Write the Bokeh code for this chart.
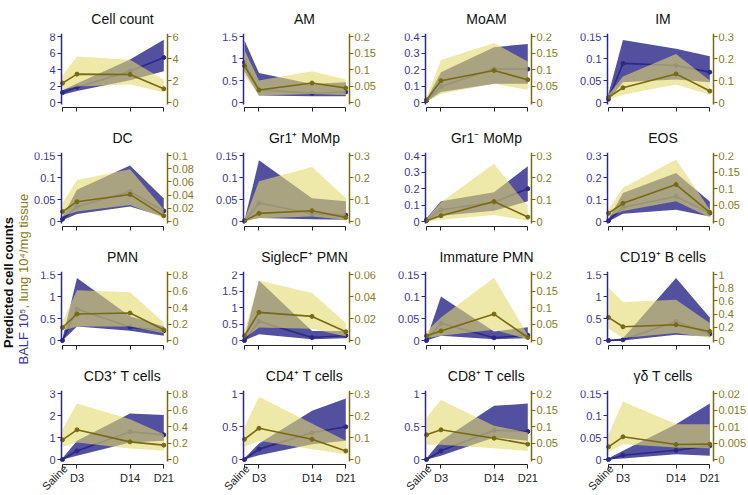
import math
from bokeh.plotting import figure
from bokeh.models import (Range1d, LinearAxis, FixedTicker, CustomJSTickFormatter,
                          CustomLabelingPolicy)
from bokeh.layouts import row, column
from bokeh.core.properties import value
from bokeh.embed import file_html
from bokeh.resources import INLINE

days = [0, 3, 14, 21]
day_labels = ["Saline", "D3", "D14", "D21"]

titles = ["Cell count", "AM", "MoAM", "IM",
          "DC", "Gr1\u207a MoMp", "Gr1\u207b MoMp", "EOS",
          "PMN", "SiglecF\u207a PMN", "Immature PMN", "CD19\u207a B cells",
          "CD3\u207a T cells", "CD4\u207a T cells", "CD8\u207a T cells", "\u03b3\u03b4 T cells"]

left_ticks = [
    [0, 2, 4, 6, 8], [0, 0.5, 1, 1.5], [0, 0.1, 0.2, 0.3, 0.4], [0, 0.05, 0.1, 0.15],
    [0, 0.05, 0.1, 0.15], [0, 0.05, 0.1, 0.15], [0, 0.1, 0.2, 0.3, 0.4], [0, 0.1, 0.2, 0.3],
    [0, 0.5, 1, 1.5], [0, 0.5, 1, 1.5, 2], [0, 0.05, 0.1, 0.15], [0, 0.5, 1, 1.5],
    [0, 1, 2, 3], [0, 0.5, 1], [0, 0.5, 1], [0, 0.05, 0.1, 0.15]]
right_ticks = [
    [0, 2, 4, 6], [0, 0.05, 0.1, 0.15, 0.2], [0, 0.05, 0.1, 0.15, 0.2], [0, 0.1, 0.2, 0.3],
    [0, 0.02, 0.04, 0.06, 0.08, 0.1], [0, 0.1, 0.2, 0.3], [0, 0.1, 0.2, 0.3], [0, 0.05, 0.1, 0.15, 0.2],
    [0, 0.2, 0.4, 0.6, 0.8], [0, 0.02, 0.04, 0.06], [0, 0.05, 0.1, 0.15, 0.2], [0, 0.2, 0.4, 0.6, 0.8, 1],
    [0, 0.2, 0.4, 0.6, 0.8], [0, 0.1, 0.2, 0.3], [0, 0.05, 0.1, 0.15, 0.2], [0, 0.005, 0.01, 0.015, 0.02]]

# BALF (left axis): mean, lower, upper at Saline, D3, D14, D21
balf_mean = [
    [1.2, 1.86, 3.8, 5.45], [0.91, 0.29, 0.21, 0.24], [0.012, 0.097, 0.204, 0.202], [0.0076, 0.089, 0.084, 0.069],
    [0.0053, 0.0335, 0.068, 0.024], [0.0015, 0.042, 0.0175, 0.0145], [0.01, 0.071, 0.116, 0.199], [0.003, 0.065, 0.114, 0.038],
    [0.0, 0.716, 0.305, 0.22], [0.0, 0.58, 0.09, 0.15], [0.0, 0.039, 0.0062, 0.0122], [0.0, 0.015, 0.434, 0.145],
    [0.0, 0.39, 1.26, 1.12], [0.0, 0.157, 0.404, 0.495], [0.0, 0.131, 0.444, 0.424], [0.0, 0.0098, 0.021, 0.031]]
balf_lo = [
    [0.95, 1.4, 2.7, 3.8], [0.7, 0.16, 0.14, 0.14], [0.005, 0.063, 0.113, 0.113], [0.005, 0.046, 0.052, 0.046],
    [0.003, 0.017, 0.034, 0.011], [0.001, 0.008, 0.005, 0.004], [0.004, 0.035, 0.065, 0.122], [0.0, 0.035, 0.053, 0.023],
    [0.0, 0.32, 0.22, 0.107], [0.0, 0.19, 0.04, 0.07], [0.0, 0.0107, 0.003, 0.0053], [0.0, 0.0, 0.13, 0.091],
    [0.0, 0.17, 0.77, 0.85], [0.0, 0.066, 0.232, 0.283], [0.0, 0.056, 0.333, 0.283], [0.0, 0.002, 0.012, 0.0083]]
balf_hi = [
    [1.5, 2.3, 5.2, 7.6], [1.41, 0.67, 0.42, 0.46], [0.02, 0.184, 0.335, 0.355], [0.02, 0.142, 0.122, 0.105],
    [0.011, 0.072, 0.127, 0.052], [0.003, 0.139, 0.053, 0.046], [0.02, 0.122, 0.177, 0.335], [0.011, 0.129, 0.22, 0.091],
    [0.05, 1.42, 0.55, 0.32], [0.07, 1.82, 0.29, 0.29], [0.003, 0.1, 0.0206, 0.03], [0.01, 0.053, 1.42, 0.525],
    [0.06, 0.85, 2.09, 2.02], [0.02, 0.242, 0.737, 0.924], [0.02, 0.283, 0.813, 0.848], [0.003, 0.0197, 0.08, 0.127]]

# Lung tissue (right axis): mean, lower, upper
lung_mean = [
    [1.76, 2.58, 2.55, 1.24], [0.111, 0.038, 0.059, 0.044], [0.008, 0.066, 0.097, 0.069], [0.024, 0.067, 0.13, 0.052],
    [0.015, 0.03, 0.041, 0.0086], [0.003, 0.037, 0.049, 0.018], [0.003, 0.026, 0.091, 0.02], [0.025, 0.055, 0.112, 0.028],
    [0.158, 0.321, 0.333, 0.13], [0.0043, 0.0256, 0.0219, 0.0079], [0.0142, 0.029, 0.08, 0.009], [0.35, 0.208, 0.239, 0.137],
    [0.238, 0.36, 0.214, 0.174], [0.092, 0.142, 0.092, 0.039], [0.0747, 0.0899, 0.0646, 0.0465], [0.00384, 0.00687, 0.00455, 0.00465]]
lung_lo = [
    [1.18, 1.45, 1.64, 0.94], [0.082, 0.021, 0.026, 0.023], [0.002, 0.026, 0.057, 0.038], [0.015, 0.035, 0.082, 0.035],
    [0.008, 0.015, 0.025, 0.005], [0.002, 0.015, 0.023, 0.008], [0.0, 0.008, 0.03, 0.003], [0.017, 0.032, 0.061, 0.012],
    [0.118, 0.17, 0.17, 0.089], [0.002, 0.0119, 0.0107, 0.0037], [0.007, 0.0142, 0.0325, 0.004], [0.178, 0.036, 0.112, 0.036],
    [0.154, 0.206, 0.133, 0.105], [0.058, 0.085, 0.047, 0.024], [0.0444, 0.0444, 0.0343, 0.026], [0.00212, 0.00465, 0.00364, 0.00343]]
lung_hi = [
    [2.45, 4.18, 3.88, 2.06], [0.158, 0.067, 0.095, 0.07], [0.015, 0.129, 0.18, 0.124], [0.035, 0.118, 0.221, 0.1],
    [0.028, 0.063, 0.079, 0.018], [0.008, 0.183, 0.248, 0.107], [0.012, 0.087, 0.262, 0.069], [0.036, 0.102, 0.188, 0.036],
    [0.23, 0.609, 0.585, 0.219], [0.0082, 0.0545, 0.0432, 0.0158], [0.027, 0.07, 0.19, 0.017], [0.797, 0.584, 0.619, 0.264],
    [0.368, 0.679, 0.489, 0.307], [0.148, 0.285, 0.164, 0.085], [0.127, 0.18, 0.102, 0.0818], [0.00768, 0.0176, 0.0107, 0.0107]]

NAVY = "#2B2886"
NAVY_TXT = "#3A3693"
NAVY_BAND = "#35318E"
YEL_BAND = "#E2DA6E"
OLIVE = "#776A10"
OLIVE_TXT = "#877A24"
FONT = "Liberation Sans"

AXIS_W = 106          # px between left and right y axes
LEFT_PAD = 30         # px from figure edge to left y axis
TOP_PX = 3            # px between frame top and top tick
ZERO_PX = 5           # px between zero and the x axis line
PX_PER_DAY = (AXIS_W - 4.7) / 21.0
BORDER_TOP = 33
ROW_H = 119
LAST_ROW_H = 138

num_fmt = "return String(Number(tick.toPrecision(6)));"


def style_y(ax, ticks, color, txtcolor, standoff):
    M = ticks[-1]
    ax.ticker = FixedTicker(ticks=ticks)
    ax.formatter = CustomJSTickFormatter(code=num_fmt)
    ax.bounds = (-1.5 / 66 * M, M * (1 + 2.7 / 66))
    ax.axis_line_color = color
    ax.axis_line_width = 1.5
    ax.major_tick_line_color = color
    ax.major_tick_line_width = 1.2
    ax.major_tick_out = 4
    ax.major_tick_in = 0
    ax.minor_tick_line_color = None
    ax.major_label_text_color = txtcolor
    ax.major_label_text_font = FONT
    ax.major_label_text_font_size = "11px"
    ax.major_label_standoff = standoff


def make_panel(i, last_row, last_col):
    LM = left_ticks[i][-1]
    RM = right_ticks[i][-1]
    h = LAST_ROW_H if last_row else ROW_H
    w = 171 if last_col else 182
    below = h - BORDER_TOP - TOP_PX - 66          # frame px below zero
    x0 = -(LEFT_PAD + 1) / PX_PER_DAY             # figure left edge in days
    x_left_axis = -1.0 / PX_PER_DAY
    x_right_axis = x_left_axis + AXIS_W / PX_PER_DAY
    p = figure(width=w, height=h, output_backend="svg", toolbar_location=None,
               x_range=Range1d(x0, x0 + w / PX_PER_DAY),
               y_range=Range1d(-below / 66 * LM, LM * (1 + TOP_PX / 66)),
               min_border_left=0, min_border_right=0, min_border_top=BORDER_TOP,
               min_border_bottom=0, title=titles[i])
    p.extra_y_ranges = {"right": Range1d(-below / 66 * RM, RM * (1 + TOP_PX / 66))}
    p.outline_line_color = None
    p.grid.visible = False
    p.title.align = "center"
    p.title.offset = (LEFT_PAD + AXIS_W / 2.0) - w / 2.0
    p.title.text_font = FONT
    p.title.text_font_size = "14px"
    p.title.text_font_style = "normal"
    p.title.text_color = "#111111"
    p.title.standoff = 13

    rax = LinearAxis(y_range_name="right")
    p.add_layout(rax, "right")
    lax = p.left[0]
    style_y(lax, left_ticks[i], NAVY, NAVY_TXT, 2)
    style_y(rax, right_ticks[i], OLIVE, OLIVE_TXT, 1)
    lax.fixed_location = x_left_axis
    rax.fixed_location = x_right_axis

    xax = p.below[0]
    xax.ticker = FixedTicker(ticks=days)
    xax.formatter = CustomJSTickFormatter(code="return '';")
    xax.bounds = (days[0], days[-1])
    xax.fixed_location = -ZERO_PX / 66 * LM
    xax.axis_line_color = "#222222"
    xax.major_tick_line_color = "#222222"
    xax.major_tick_out = 4
    xax.major_tick_in = 0
    xax.minor_tick_line_color = None
    xax.major_label_standoff = 0
    xax.major_label_text_font_size = "0px"
    xax.major_label_policy = CustomLabelingPolicy(
        code="for (let k = 0; k < indices.size; k++) { indices.unset(k); } return indices;")

    # BALF
    p.varea(x=days, y1=balf_lo[i], y2=balf_hi[i], fill_color=NAVY_BAND, fill_alpha=0.85)
    p.line(days, balf_mean[i], line_color=NAVY, line_width=1.6)
    p.scatter(days, balf_mean[i], size=4, color=NAVY)
    # Lung
    p.varea(x=days, y1=lung_lo[i], y2=lung_hi[i], fill_color=YEL_BAND, fill_alpha=0.6,
            y_range_name="right")
    p.line(days, lung_mean[i], line_color=OLIVE, line_width=1.6, y_range_name="right")
    p.scatter(days, lung_mean[i], size=4, color=OLIVE, y_range_name="right")

    if last_row:
        # x tick labels (horizontal D3/D14/D21, rotated Saline)
        p.text(x=days[1:], y=[-18 / 66 * LM] * 3, text=day_labels[1:],
               text_align="center", text_baseline="middle", text_font=value(FONT),
               text_font_size="11px", text_color="#222222")
        p.text(x=days[:1], y=[-7 / 66 * LM], text=day_labels[:1], angle=math.pi / 4,
               text_align="right", text_baseline="middle", x_offset=3, text_font=value(FONT),
               text_font_size="11px", text_color="#222222")
    return p


rows = []
for r in range(4):
    rows.append(row(*[make_panel(r * 4 + c, r == 3, c == 3) for c in range(4)]))
grid = column(*rows)

# y-axis title figure
H = 3 * ROW_H + LAST_ROW_H
lab = figure(width=31, height=H, output_backend="svg", toolbar_location=None,
             x_range=Range1d(0, 31), y_range=Range1d(0, H),
             x_axis_type=None, y_axis_type=None, min_border=0)
lab.outline_line_color = None
lab.grid.visible = False
lab.text(x=[8], y=[H - 282], text=["Predicted cell counts"], angle=math.pi / 2,
         text_align="center", text_baseline="middle", text_font=value(FONT),
         text_font_style="bold", text_font_size="13px", text_color="#111111")
lab.text(x=[23], y=[H - 308], text=["BALF 10\u2075"], angle=math.pi / 2,
         text_align="right", text_baseline="middle", text_font=value(FONT),
         text_font_size="13px", text_color=NAVY_TXT)
lab.text(x=[23], y=[H - 308], text=[", lung 10\u2074/mg tissue"], angle=math.pi / 2,
         text_align="left", text_baseline="middle", text_font=value(FONT),
         text_font_size="13px", text_color=OLIVE_TXT)

layout = row(lab, grid)
open("out.html", "w").write(file_html(layout, INLINE))
